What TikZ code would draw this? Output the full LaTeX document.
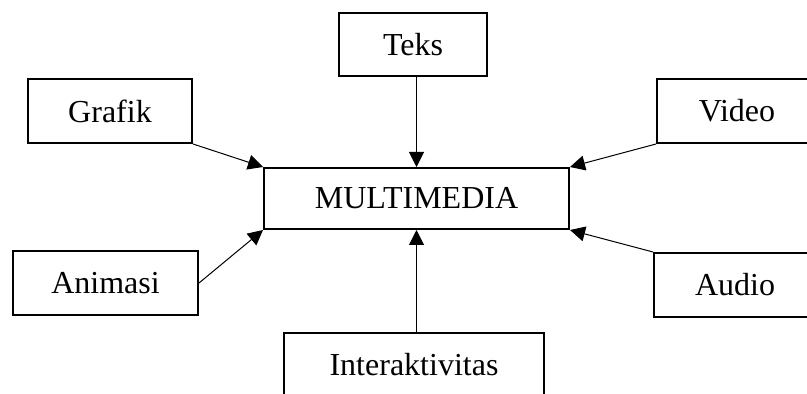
\documentclass[tikz,border=0pt]{standalone}
\usepackage{fontspec}
\setmainfont{Liberation Serif}
\usetikzlibrary{arrows.meta}
\begin{document}
\begin{tikzpicture}[x=0.5pt,y=-0.5pt,
  box/.style={draw,line width=1pt,inner sep=0pt,font=\fontsize{16}{19}\selectfont},
  arr/.style={line width=0.5pt,-{Triangle[length=7.5pt,width=7.5pt]}}]
\useasboundingbox (0,0) rectangle (807,394);
\clip (0,0) rectangle (807,394);
\node[box,minimum width=152.5pt,minimum height=30.5pt] (mm) at (416.5,198.5) {MULTIMEDIA};
\node[box,minimum width=74pt,minimum height=31.5pt] (teks) at (413,44.5) {Teks};
\node[box,minimum width=82pt,minimum height=32pt] (grafik) at (110,111) {Grafik};
\node[box,minimum width=80pt,minimum height=32pt] (video) at (737,111) {Video};
\node[box,minimum width=92.5pt,minimum height=32pt] (animasi) at (105.5,283) {Animasi};
\node[box,minimum width=81pt,minimum height=32pt] (audio) at (735,285) {Audio};
\node[box,minimum width=130pt,minimum height=31.5pt] (inter) at (414,364.5) {Interaktivitas};
\draw[arr] (mm.north |- teks.south) -- (mm.north);
\draw[arr] (grafik.south east) -- (mm.north west);
\draw[arr] (video.south west) -- (mm.north east);
\draw[arr] (animasi.east) -- (mm.south west);
\draw[arr] (audio.north west) -- (mm.south east);
\draw[arr] (mm.south |- inter.north) -- (mm.south);
\end{tikzpicture}
\end{document}
